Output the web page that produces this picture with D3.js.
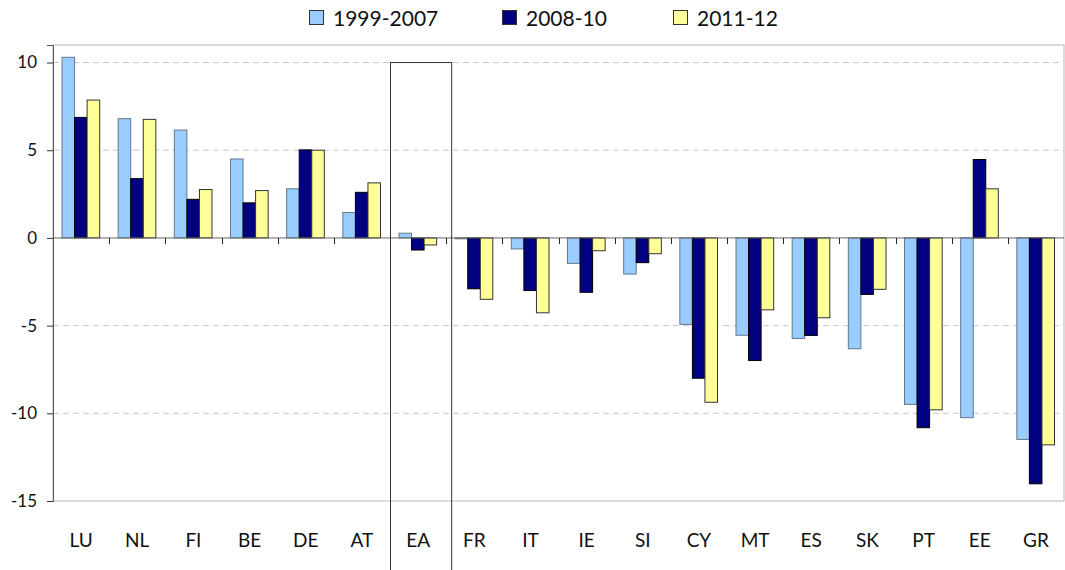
<!DOCTYPE html>
<html>
<head>
<meta charset="utf-8">
<script src="https://cdn.jsdelivr.net/npm/d3@7"></script>
<style>
  body { margin: 0; background: #fff; }
  text { font-family: Lato, "Noto Sans", sans-serif; fill: #111; }
</style>
</head>
<body>
<div id="chart"></div>
<script>
const width = 1065
const height = 570

const categories = ["LU", "NL", "FI", "BE", "DE", "AT", "EA", "FR", "IT", "IE", "SI", "CY", "MT", "ES", "SK", "PT", "EE", "GR"]
const seriesNames = ["1999-2007", "2008-10", "2011-12"]
const s1999 = [10.3, 6.8, 6.15, 4.5, 2.8, 1.45, 0.27, -0.05, -0.63, -1.45, -2.06, -4.93, -5.55, -5.73, -6.32, -9.49, -10.25, -11.49]
const s2008 = [6.87, 3.38, 2.2, 2.0, 5.02, 2.6, -0.69, -2.9, -3.0, -3.1, -1.41, -8.0, -6.99, -5.56, -3.22, -10.82, 4.47, -14.02]
const s2011 = [7.86, 6.76, 2.76, 2.7, 5.0, 3.14, -0.4, -3.5, -4.27, -0.73, -0.9, -9.37, -4.1, -4.55, -2.93, -9.8, 2.8, -11.8]
const yTicks = [-15, -10, -5, 0, 5, 10]

const colors = ["#99ccff", "#000080", "#ffff99"]
const strokes = ["#667788", "#000000", "#333333"]
const values = [s1999, s2008, s2011]

const margin = {top: 45, right: 1, left: 53, bottom: 69}

const svg = d3.select("#chart")
              .append("svg")
              .attr("width", width)
              .attr("height", height)

const x = d3.scaleBand()
            .domain(categories)
            .range([margin.left, width - margin.right])

const x1 = d3.scaleBand()
             .domain(seriesNames)
             .range([9, x.bandwidth() - 9.5])

const y = d3.scaleLinear()
            .domain([-15, 11])
            .range([height - margin.bottom, margin.top])

// plot frame
svg.append("rect")
   .attr("x", margin.left)
   .attr("y", margin.top)
   .attr("width", width - margin.right - margin.left)
   .attr("height", y(-15) - margin.top)
   .attr("fill", "none")
   .attr("stroke", "#b8b8b8")

// dashed gridlines
svg.append("g")
   .selectAll("line")
   .data(yTicks.filter(d => d !== 0 && d !== -15))
   .enter()
   .append("line")
   .attr("x1", margin.left)
   .attr("x2", width - margin.right)
   .attr("y1", d => y(d))
   .attr("y2", d => y(d))
   .attr("stroke", "#c8c8c8")
   .attr("stroke-dasharray", "6,4")

// bars
const rows = categories.map((c, i) => ({cat: c, vals: values.map((v, j) => ({key: seriesNames[j], j: j, v: v[i]}))}))

svg.append("g")
   .selectAll("g")
   .data(rows)
   .enter()
   .append("g")
   .attr("transform", d => `translate(${x(d.cat)},0)`)
   .selectAll("rect")
   .data(d => d.vals)
   .enter()
   .append("rect")
   .attr("x", d => x1(d.key))
   .attr("width", x1.bandwidth())
   .attr("y", d => y(Math.max(0, d.v)))
   .attr("height", d => Math.abs(y(d.v) - y(0)))
   .attr("fill", d => colors[d.j])
   .attr("stroke", d => strokes[d.j])
   .attr("stroke-width", 1)

// zero line + category separators
svg.append("line")
   .attr("x1", margin.left)
   .attr("x2", width - margin.right)
   .attr("y1", y(0))
   .attr("y2", y(0))
   .attr("stroke", "#666")

svg.append("g")
   .selectAll("line")
   .data(categories.slice(1))
   .enter()
   .append("line")
   .attr("x1", d => Math.round(x(d)) + 0.5)
   .attr("x2", d => Math.round(x(d)) + 0.5)
   .attr("y1", y(0))
   .attr("y2", y(0) + 6)
   .attr("stroke", "#222")

// y axis
const yAxis = svg.append("g")
                 .attr("transform", `translate(${margin.left},0)`)
                 .call(d3.axisLeft(y).tickValues(yTicks).tickSize(6).tickPadding(10).tickFormat(d => String(d)))
yAxis.select(".domain").attr("stroke", "#555")
yAxis.selectAll(".tick line").attr("stroke", "#333")
yAxis.selectAll("text")
     .style("font-size", "17px")
     .attr("fill", "#111")

// category labels
svg.append("g")
   .selectAll("text")
   .data(categories)
   .enter()
   .append("text")
   .attr("x", d => x(d) + x.bandwidth() / 2)
   .attr("y", 547)
   .attr("text-anchor", "middle")
   .style("font-size", "19px")
   .text(d => d)

// euro area box
svg.append("rect")
   .attr("x", x("EA") + 0.5)
   .attr("y", y(10))
   .attr("width", x.bandwidth() + 5)
   .attr("height", height - y(10) + 2)
   .attr("fill", "none")
   .attr("stroke", "#333")

// legend
const legendX = [309, 502, 673]
const legend = svg.append("g")
                  .selectAll("g")
                  .data(seriesNames)
                  .enter()
                  .append("g")
                  .attr("transform", (d, i) => `translate(${legendX[i]},10)`)

legend.append("rect")
      .attr("x", 0.5)
      .attr("y", 0.5)
      .attr("width", 14)
      .attr("height", 14)
      .attr("fill", (d, i) => colors[i])
      .attr("stroke", "#333")

legend.append("text")
      .attr("x", 24)
      .attr("y", 16)
      .style("font-size", "21px")
      .text(d => d)
</script>
</body>
</html>
